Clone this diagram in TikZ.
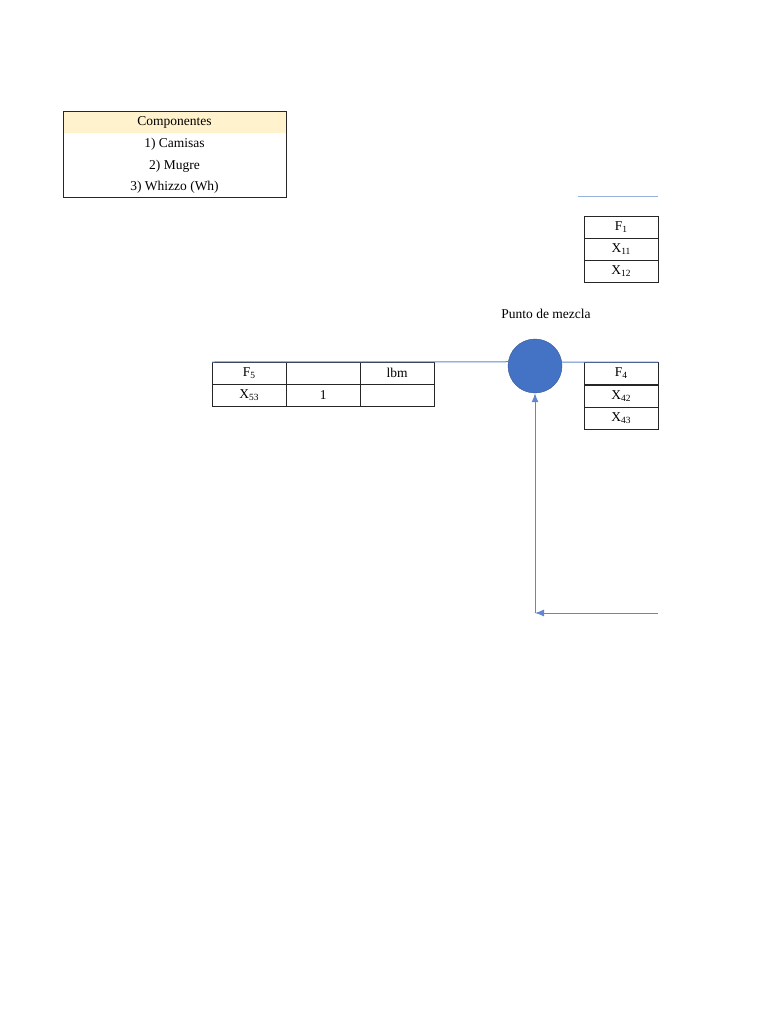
\documentclass[tikz,border=0pt]{standalone}
\usepackage{fontspec}
\setmainfont{Liberation Serif}
\usetikzlibrary{arrows.meta}
\definecolor{flowblue}{HTML}{4472C4}
\definecolor{headyellow}{HTML}{FFF2CC}
\tikzset{
  cell/.style={draw=black!85, minimum width=74, minimum height=22, inner sep=0pt, anchor=north west, font=\fontsize{13.5}{16}\selectfont},
  flow/.style={draw=flowblue!85, line width=1pt},
}
\begin{document}
\begin{tikzpicture}[x=1pt, y=-1pt]
    \useasboundingbox (0,0) rectangle (768,1024);

    % Components list
    \fill[headyellow] (63,111) rectangle (286,133);
    \draw[black!85] (63,111) rectangle (286,197);
    \node[font=\fontsize{13.5}{16}\selectfont] (comp) at (174.5,122) {Componentes};
    \node[font=\fontsize{13.5}{16}\selectfont] (c1) at (174.5,144) {1) Camisas};
    \node[font=\fontsize{13.5}{16}\selectfont] (c2) at (174.5,166) {2) Mugre};
    \node[font=\fontsize{13.5}{16}\selectfont] (c3) at (174.5,187) {3) Whizzo (Wh)};

    % Stream 1
    \coordinate (s1a) at (578,197);
    \coordinate (s1b) at (658,197);
    \draw[flowblue!55, line width=1pt] (s1a) -- (s1b);
    \node[cell] (f1a) at (584,216) {F\textsubscript{1}};
    \node[cell] (f1b) at (584,238) {X\textsubscript{11}};
    \node[cell] (f1c) at (584,260) {X\textsubscript{12}};

    % Mixing point
    \node[font=\fontsize{13.5}{16}\selectfont] (lbl) at (546,314) {Punto de mezcla};
    \node[circle, fill=flowblue, draw=flowblue!75!black, minimum size=54, inner sep=0pt] (mix) at (535,366) {};

    % Stream 5
    \node[cell] (f5a) at (212,362) {F\textsubscript{5}};
    \node[cell] (f5b) at (286,362) {};
    \node[cell] (f5c) at (360,362) {lbm};
    \node[cell] (x5a) at (212,384) {X\textsubscript{53}};
    \node[cell] (x5b) at (286,384) {1};
    \node[cell] (x5c) at (360,384) {};

    % Stream 4
    \node[cell] (f4a) at (584,362) {F\textsubscript{4}};
    \node[cell] (f4b) at (584,384.5) {X\textsubscript{42}};
    \node[cell] (f4c) at (584,407) {X\textsubscript{43}};

    % Connectors
    \draw[flow] (f5a.north west) -- (mix.171.5);
    \draw[flow] (mix.8.5) -- (f4a.north east);
    \coordinate (ret) at (658,613);
    \coordinate (corner) at (535,613);
    \draw[flow, -{Latex[length=9pt, width=7pt]}] (ret) -- (corner);
    \draw[flow, -{Latex[length=9pt, width=7pt]}] (corner) -- (mix.south);
\end{tikzpicture}
\end{document}
